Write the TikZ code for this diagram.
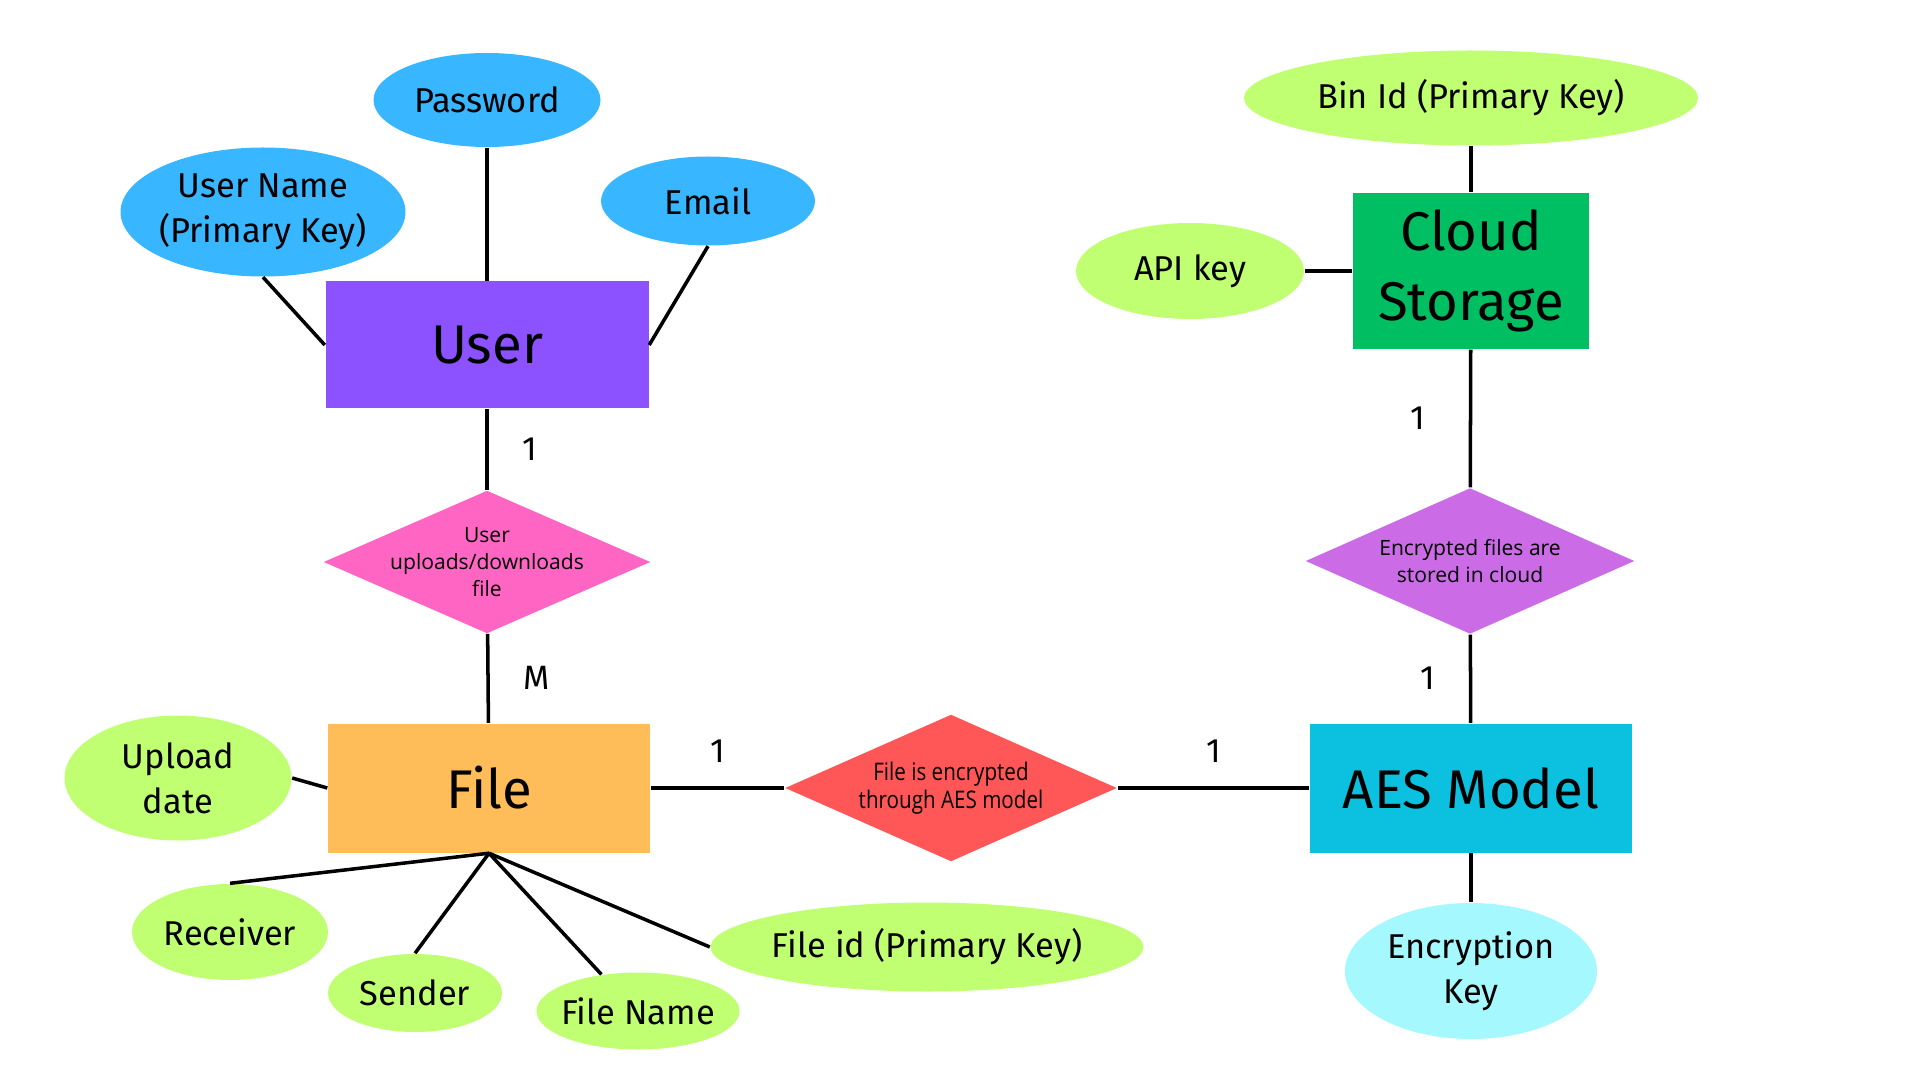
\documentclass[tikz,border=0pt]{standalone}
\usepackage{fontspec}
\setmainfont{Fira Sans}
\newfontfamily\relfont{Open Sans}
\newfontfamily\relcondfont[FakeStretch=0.85]{Open Sans}
\usepackage{xcolor}
\usepackage{tikz}
\usetikzlibrary{positioning,shapes.geometric}

\definecolor{userBlue}{HTML}{38B6FF}
\definecolor{userPurple}{HTML}{8C52FF}
\definecolor{relPink}{HTML}{FF66C4}
\definecolor{attrGreen}{HTML}{C1FF72}
\definecolor{fileOrange}{HTML}{FFBD59}
\definecolor{relRed}{HTML}{FF5757}
\definecolor{aesCyan}{HTML}{0CC0DF}
\definecolor{keyCyan}{HTML}{A6F8FF}
\definecolor{relViolet}{HTML}{CB6CE6}
\definecolor{cloudGreen}{HTML}{00BF63}

\begin{document}
\begin{tikzpicture}[
  ent/.style={rectangle, align=center, inner sep=0pt,
              font=\fontsize{15.5}{19.9}\selectfont},
  attr/.style={ellipse, align=center, inner sep=-2pt,
               font=\fontsize{9.8}{12.9}\selectfont},
  rel/.style={diamond, aspect=2.25, align=center, inner sep=-4pt,
              font=\relfont\fontsize{6}{7.8}\selectfont},
  card/.style={font=\fontsize{9.6}{11}\selectfont, inner sep=1pt},
  con/.style={line width=1pt, black},
]
\useasboundingbox (0,0) rectangle (19.2,-10.8);

\node[ent, fill=userPurple, minimum width=3.23cm, minimum height=1.27cm] (user) at (4.87,-3.45) {User};
\node[attr, fill=userBlue, minimum width=2.27cm, minimum height=0.94cm] (password) at (4.87,-1.00) {Password};
\node[attr, fill=userBlue, minimum width=2.85cm, minimum height=1.29cm] (uname) at (2.63,-2.12) {User Name\\(Primary Key)};
\node[attr, fill=userBlue, minimum width=2.14cm, minimum height=0.89cm] (email) at (7.08,-2.01) {Email};

\node[rel, fill=relPink, minimum width=3.27cm, minimum height=1.43cm] (updown) at (4.87,-5.62) {User\\uploads/downloads\\file};

\node[ent, fill=fileOrange, minimum width=3.22cm, minimum height=1.29cm] (file) at (4.89,-7.88) {File};
\node[attr, fill=attrGreen, minimum width=2.27cm, minimum height=1.25cm] (upload) at (1.78,-7.78) {Upload\\date};
\node[attr, fill=attrGreen, minimum width=1.96cm, minimum height=0.96cm] (receiver) at (2.30,-9.32) {Receiver};
\node[attr, fill=attrGreen, minimum width=1.74cm, minimum height=0.78cm] (sender) at (4.15,-9.93) {Sender};
\node[attr, fill=attrGreen, minimum width=2.03cm, minimum height=0.77cm] (fname) at (6.38,-10.11) {File Name};
\node[attr, fill=attrGreen, minimum width=4.33cm, minimum height=0.89cm] (fid) at (9.27,-9.47) {File id (Primary Key)};

\node[rel, fill=relRed, minimum width=3.32cm, minimum height=1.47cm,
      font=\relcondfont\fontsize{6.9}{8.1}\selectfont] (encrypt) at (9.51,-7.88) {File is encrypted\\through AES model};

\node[ent, fill=aesCyan, minimum width=3.22cm, minimum height=1.29cm] (aes) at (14.71,-7.88) {AES Model};
\node[attr, fill=keyCyan, minimum width=2.52cm, minimum height=1.36cm] (enckey) at (14.71,-9.71) {Encryption\\Key};

\node[rel, fill=relViolet, minimum width=3.29cm, minimum height=1.46cm] (stored) at (14.70,-5.61) {Encrypted files are\\stored in cloud};

\node[ent, fill=cloudGreen, minimum width=2.36cm, minimum height=1.56cm] (cloud) at (14.71,-2.71) {Cloud\\Storage};
\node[attr, fill=attrGreen, minimum width=4.54cm, minimum height=0.95cm] (binid) at (14.71,-0.98) {Bin Id (Primary Key)};
\node[attr, fill=attrGreen, minimum width=2.28cm, minimum height=0.96cm] (apikey) at (11.90,-2.71) {API key};

\draw[con] (password) -- (user);
\draw[con] (uname.south) -- (user.west);
\draw[con] (email.south) -- (user.east);
\draw[con] (user) -- node[card, right=0.3cm]{1} (updown);
\draw[con] (updown) -- node[card, right=0.3cm]{M} (file);

\draw[con] (upload.east) -- (file.west);
\draw[con] (file.south) -- (receiver.north);
\draw[con] (file.south) -- (sender.north);
\draw[con] (file.south) -- (fname.135);
\draw[con] (file.south) -- (fid.west);

\draw[con] (file) -- node[card, above=0.2cm]{1} (encrypt);
\draw[con] (encrypt) -- node[card, above=0.2cm]{1} (aes);
\draw[con] (aes) -- (enckey);
\draw[con] (stored) -- node[card, left=0.3cm]{1} (aes);
\draw[con] (cloud) -- node[card, left=0.4cm]{1} (stored);
\draw[con] (binid) -- (cloud);
\draw[con] (apikey) -- (cloud);
\end{tikzpicture}
\end{document}
